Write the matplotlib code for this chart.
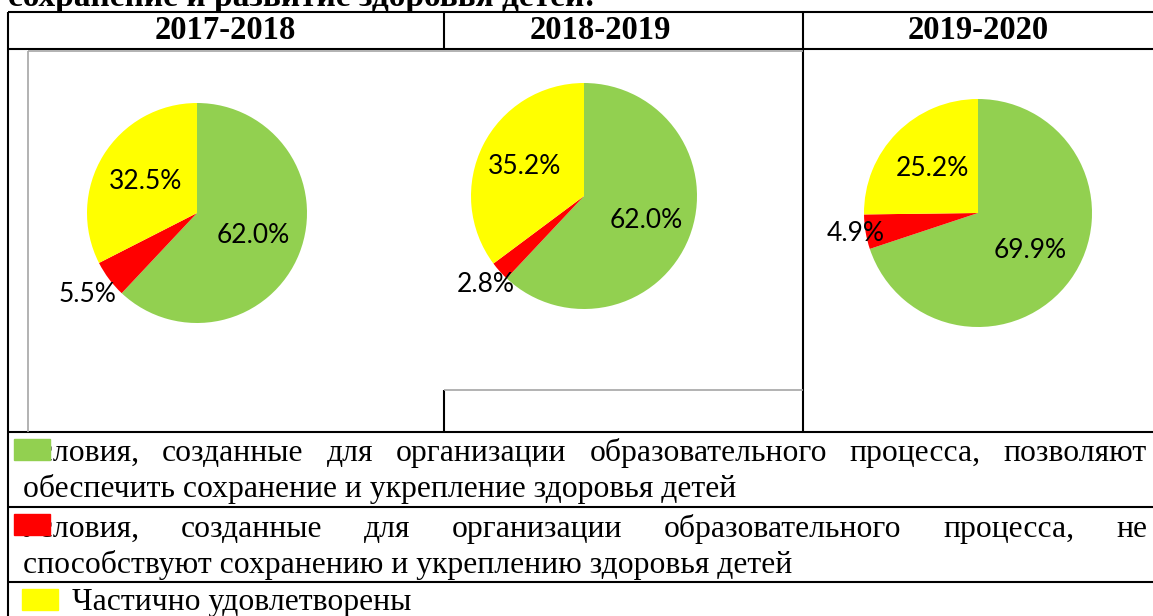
import numpy as np
import matplotlib
matplotlib.use('Agg')
import matplotlib.pyplot as plt
from matplotlib.patches import Rectangle

# ================= данные =================
years  = ['2017-2018', '2018-2019', '2019-2020']
green  = [62.0, 62.0, 69.9]   # позволяют сохранить здоровье
red    = [5.5, 2.8, 4.9]      # не способствуют
yellow = [32.5, 35.2, 25.2]   # частично удовлетворены

title_text = 'сохранение и развитие здоровья детей:'
legend_rows = [
    ('Условия, созданные для организации образовательного процесса, позволяют',
     'обеспечить сохранение и укрепление здоровья детей'),
    ('Условия, созданные для организации образовательного процесса, не',
     'способствуют сохранению и укреплению здоровья детей'),
    ('Частично удовлетворены', None),
]

C_GREEN, C_RED, C_YELLOW = '#92D050', '#FF0000', '#FFFF00'
W, H = 1153, 616

# ================= холст (пиксельные координаты) =================
fig = plt.figure(figsize=(W / 100, H / 100), dpi=100)
ax = fig.add_axes([0, 0, 1, 1])
ax.set_xlim(0, W)
ax.set_ylim(H, 0)
ax.axis('off')

SERIF = ['Liberation Serif', 'DejaVu Serif']
LW = 1.5

def hline(y, x0, x1, color='black', lw=LW):
    ax.plot([x0, x1], [y, y], color=color, lw=lw, solid_capstyle='butt')

def vline(x, y0, y1, color='black', lw=LW):
    ax.plot([x, x], [y0, y1], color=color, lw=lw, solid_capstyle='butt')

# заголовок (обрезан сверху, как в документе)
ax.text(8, 6, title_text, family=SERIF, weight='bold', fontsize=24, va='baseline')

# таблица
hline(12, 8, W)
hline(49, 8, W)
vline(8, 12, H)
vline(444, 12, 49)
vline(803, 12, 432)
vline(444, 390, 432)
for y in (432, 507, 582):
    hline(y, 8, W)

# рамки диаграмм
GRAY = '#a6a6a6'
vline(28, 51, 432, color=GRAY, lw=1.2)
hline(51, 28, 803, color=GRAY, lw=1.2)
hline(390, 444, 803, color=GRAY, lw=1.2)

# годы в шапке
for yr, cx in zip(years, (225, 600, 978)):
    ax.text(cx, 39, yr, family=SERIF, weight='bold', fontsize=23.5, ha='center', va='baseline')

# ================= круговые диаграммы =================
pies = [(197, 213, 110), (584, 196, 113), (978, 213, 114)]
dists = [[0.55, 1.24, 0.55], [0.59, 1.17, 0.59], [0.56, 1.09, 0.56]]
K = 1.6
for i, (cx, cy, r) in enumerate(pies):
    side = 2 * r * K
    pax = fig.add_axes([(cx - r * K) / W, 1 - (cy + r * K) / H, side / W, side / H])
    vals = [green[i], red[i], yellow[i]]
    wedges, _ = pax.pie(vals, colors=[C_GREEN, C_RED, C_YELLOW], startangle=90,
                        counterclock=False, radius=1, wedgeprops=dict(linewidth=0))
    pax.set_xlim(-K, K)
    pax.set_ylim(-K, K)
    pax.set_aspect('auto')
    pax.axis('off')
    for w, v, d in zip(wedges, vals, dists[i]):
        ang = np.deg2rad((w.theta1 + w.theta2) / 2)
        pax.text(d * np.cos(ang), d * np.sin(ang), f'{v:.1f}%', family=['Lato', 'DejaVu Sans'],
                 fontsize=19, ha='center', va='center', zorder=5)

# ================= легенда =================
renderer = fig.canvas.get_renderer()
FS = 22.8

def justify(line, x0, x1, y):
    words = line.split()
    texts = [ax.text(0, y, w, family=SERIF, fontsize=FS, va='baseline') for w in words]
    widths = [t.get_window_extent(renderer).width for t in texts]
    gap = (x1 - x0 - sum(widths)) / (len(words) - 1)
    x = x0
    for t, wd in zip(texts, widths):
        t.set_x(x)
        x += wd + gap

rows_y = [(461, 497), (537, 573)]
for (l1, l2), (y1, y2) in zip(legend_rows[:2], rows_y):
    justify(l1, 20, 1147, y1)
    ax.text(23, y2, l2, family=SERIF, fontsize=FS, va='baseline')
ax.text(72, 610, legend_rows[2][0], family=SERIF, fontsize=FS, va='baseline')

ax.add_patch(Rectangle((14, 439), 36, 21, color=C_GREEN, zorder=6))
ax.add_patch(Rectangle((14, 514), 36, 21, color=C_RED, zorder=6))
ax.add_patch(Rectangle((22, 589), 36, 21, color=C_YELLOW, zorder=6))

fig.savefig('out.png', dpi=100)
